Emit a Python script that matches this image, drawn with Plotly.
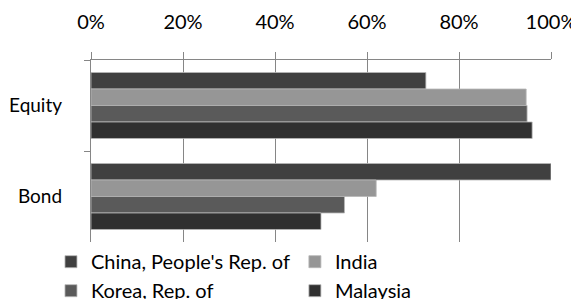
import plotly.graph_objects as go

categories = ["Equity", "Bond"]
series_names = ["China, People's Rep. of", "India", "Korea, Rep. of", "Malaysia"]
china = [72.8, 100.0]
india = [94.6, 62.0]
korea = [94.8, 55.1]
malaysia = [95.9, 50.0]
colors = ["#404040", "#969696", "#5a5a5a", "#303030"]
x_ticks = [0, 20, 40, 60, 80, 100]
x_tick_labels = ["0%", "20%", "40%", "60%", "80%", "100%"]

FONT = "Lato"
fig = go.Figure()
for name, vals, col in zip(series_names, [china, india, korea, malaysia], colors):
    fig.add_trace(go.Bar(
        y=categories, x=vals, name=name, orientation="h",
        marker=dict(color=col, line=dict(color="#b8b8b8", width=0.8)),
    ))

fig.update_layout(
    width=571, height=320,
    margin=dict(l=83, r=28, t=52, b=86),
    paper_bgcolor="white", plot_bgcolor="white",
    barmode="group", bargap=0.275, bargroupgap=0,
    font=dict(family=FONT, size=20, color="#000000"),
    showlegend=True,
    legend=dict(orientation="h", x=-0.087, xanchor="left", y=-0.001, yanchor="top",
                bgcolor="rgba(0,0,0,0)",
                font=dict(family=FONT, size=20, color="#000000"),
                traceorder="normal", itemwidth=30),
    xaxis=dict(side="top", range=[0, 100], tickvals=x_ticks, ticktext=x_tick_labels,
               showgrid=True, gridcolor="#868686", gridwidth=1.3,
               showline=True, linecolor="#868686", linewidth=1.3,
               ticks="outside", ticklen=7, tickcolor="#868686", tickwidth=1.3,
               ticklabelstandoff=15, zeroline=False, automargin=False,
               tickfont=dict(family=FONT, size=20)),
    yaxis=dict(autorange="reversed", type="category",
               showline=True, linecolor="#868686", linewidth=1.3,
               ticks="outside", tickson="boundaries", ticklen=6, tickcolor="#868686", tickwidth=1.3,
               ticklabelstandoff=24, showgrid=False, zeroline=False, automargin=False,
               tickfont=dict(family=FONT, size=19)),
)

fig.write_html("out.html")
